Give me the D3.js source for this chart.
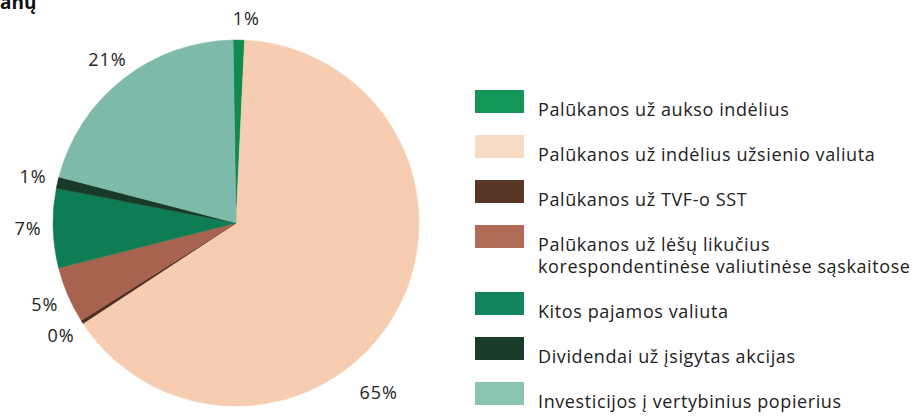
<!DOCTYPE html>
<html>
<head>
<meta charset="utf-8">
<script src="https://cdn.jsdelivr.net/npm/d3@7"></script>
<style>
  body { margin: 0; background: #fff; }
  text { font-family: "Open Sans", sans-serif; fill: #222; }
</style>
</head>
<body>
<div id="VisContainer"></div>
<script>
// slices, clockwise from the top
categories = [
  "Palūkanos už aukso indėlius",
  "Palūkanos už indėlius užsienio valiuta",
  "Palūkanos už TVF-o SST",
  "Palūkanos už lėšų likučius|korespondentinėse valiutinėse sąskaitose",
  "Kitos pajamos valiuta",
  "Dividendai už įsigytas akcijas",
  "Investicijos į vertybinius popierius"
];
values = [1, 65, 0.3, 5, 7, 1, 20.7];
colors = ["#128a4e", "#f6cdb0", "#4e2e20", "#a8634f", "#0e7d55", "#183b27", "#7ebaa9"];
legendColors = ["#14955a", "#f6dcc6", "#5a3626", "#b06a56", "#13855c", "#1a3d29", "#8cc4b4"];

width = 924; height = 416;
cx = 236; cy = 223; radius = 183;

svg = d3.select("#VisContainer").append("svg")
  .attr("width", width)
  .attr("height", height);

// cut-off heading from the page above
svg.append("text")
  .attr("x", 0).attr("y", 9)
  .style("font-weight", "bold")
  .style("font-size", "19px")
  .style("fill", "#111")
  .text("anų");

data = categories.map(function(c, i){ return {name: c, value: values[i], color: colors[i], lcolor: legendColors[i]}; });

pie = d3.pie().sort(null).value(function(d){ return d.value; })
  .startAngle(-0.016).endAngle(2 * Math.PI - 0.016);
arc = d3.arc().innerRadius(0).outerRadius(radius);

g = svg.append("g").attr("transform", "translate(" + cx + "," + cy + ")");
arcs = pie(data);

g.selectAll("path.slice")
  .data(arcs)
  .enter().append("path")
  .attr("class", "slice")
  .attr("d", arc)
  .attr("fill", function(d){ return d.data.color; })
  .attr("stroke", function(d){ return d.data.color; })
  .attr("stroke-width", 0.5);

// the big slice has its label moved down under the pie
g.selectAll("text.pct")
  .data(arcs)
  .enter().append("text")
  .attr("class", "pct")
  .attr("text-anchor", "middle")
  .attr("dy", "0.35em")
  .style("font-size", "18px")
  .style("letter-spacing", "1px")
  .attr("transform", function(d, i){
    var a = (d.startAngle + d.endAngle) / 2, r = 208;
    if (i == 0) { a = 0.05; r = 205; }
    if (i == 1) { a = 140 * Math.PI / 180; r = 222; }
    return "translate(" + (Math.sin(a) * r) + "," + (-Math.cos(a) * r) + ")";
  })
  .text(function(d){ return Math.round(d.data.value) + "%"; });

// legend
legend = svg.append("g").attr("transform", "translate(475,90)");
var yPos = 0;
data.forEach(function(d){
  var lines = d.name.split("|");
  var row = legend.append("g").attr("transform", "translate(0," + yPos + ")");
  row.append("rect")
    .attr("width", 49).attr("height", 23)
    .attr("fill", d.lcolor);
  lines.forEach(function(l, j){
    row.append("text")
      .attr("x", 63).attr("y", 26 + j * 22)
      .style("font-size", "18px")
      .style("letter-spacing", "0.6px")
      .text(l);
  });
  yPos += 45 + (lines.length - 1) * 22;
});
</script>
</body>
</html>
